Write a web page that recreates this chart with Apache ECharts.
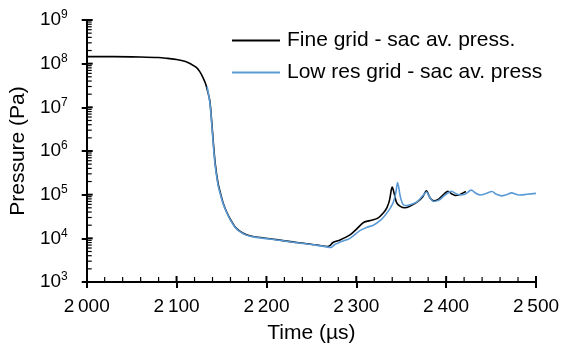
<!DOCTYPE html>
<html><head><meta charset="utf-8">
<script src="https://cdn.jsdelivr.net/npm/echarts@6/dist/echarts.min.js"></script>
<style>html,body{margin:0;padding:0;background:#fff}#c{width:566px;height:353px}</style>
</head><body><div id="c"></div>
<script>
var seriesNames = ['Fine grid - sac av. press.', 'Low res grid - sac av. press'];
var fineT = [2000,2030,2060,2080,2090,2100,2110,2116,2122,2126,2129,2132,2134,2137,2139,2141,2143,2146,2149,2152,2156,2160,2165,2170,2177,2185,2197,2215,2234,2255,2268,2271,2274,2282,2293,2300,2308,2317,2324,2330,2334,2337,2339,2340,2342,2345,2349,2354,2360,2368,2374,2378,2382,2386,2392,2398,2402,2406,2410,2415,2419,2422];
var fineP = [1.45e8,1.45e8,1.42e8,1.38e8,1.32e8,1.25e8,1.12e8,9.8e7,8.2e7,6.5e7,5e7,3.6e7,2.6e7,1.4e7,5e6,1.5e6,5.2e5,1.9e5,1.05e5,6.3e4,3.9e4,2.7e4,1.85e4,1.48e4,1.22e4,1.1e4,1.02e4,9.1e3,8e3,7.1e3,6.5e3,6.9e3,8e3,9.2e3,1.2e4,1.6e4,2.3e4,2.6e4,2.9e4,3.8e4,5e4,7.5e4,1.3e5,1.5e5,1.1e5,6.5e4,5.4e4,5e4,5.5e4,6.8e4,9e4,1.23e5,8.5e4,7.2e4,8e4,1.05e5,1.2e5,1.05e5,9.6e4,1e5,1.1e5,1.18e5];
var lowT = [2134,2137,2139,2141,2143,2146,2149,2152,2156,2160,2165,2170,2177,2185,2197,2215,2234,2255,2268,2272,2276,2282,2293,2304,2312,2319,2327,2334,2338,2341,2344,2346,2349,2352,2356,2362,2368,2374,2378,2382,2386,2392,2398,2406,2411,2416,2421,2428,2433,2438,2444,2451,2456,2462,2467,2473,2478,2482,2490,2500];
var lowP = [3e7,1.3e7,4.5e6,1.3e6,4.6e5,1.75e5,9.8e4,6e4,3.8e4,2.6e4,1.8e4,1.45e4,1.2e4,1.08e4,1e4,9e3,7.9e3,7e3,6.3e3,6.2e3,7.2e3,8.2e3,1e4,1.5e4,1.8e4,2e4,2.6e4,3.8e4,5e4,6.5e4,1.1e5,1.9e5,9e4,6e4,5.6e4,6.1e4,6.9e4,9.5e4,1.15e5,8.5e4,7e4,7.5e4,9.5e4,1.2e5,1.05e5,9.8e4,1.02e5,1.27e5,1.08e5,9.8e4,1.05e5,1.18e5,1.02e5,9.4e4,1e5,1.1e5,1.02e5,9.8e4,1.02e5,1.07e5];
var xMin = 2000, xMax = 2500, xStep = 100, xMinorStep = 20;
var yMin = 1e3, yMax = 1e9;

function zip(a, b) { return a.map(function (v, i) { return [v, b[i]]; }); }

// inner tick positions (value-space), drawn through the axes' scales
var innerTicks = [];
for (var t = xMin + xMinorStep; t < xMax; t += xMinorStep) innerTicks.push([t, yMin, 0, (t % xStep === 0) ? 1 : 0]);
innerTicks.push([xMax, yMin, 0, 1]);
for (var e = 3; e < 9; e++) {
  for (var k = 1; k <= 9; k++) {
    var v = k * Math.pow(10, e);
    if (v <= yMin) continue;
    innerTicks.push([xMin, v, 1, k === 1 ? 1 : 0]);
  }
}
innerTicks.push([xMin, yMax, 1, 1]);

var fontFam = '"Liberation Sans", Arial, sans-serif';
var chart = echarts.init(document.getElementById('c'), null, {renderer: 'canvas'});
chart.setOption({
  animation: false,
  backgroundColor: '#fff',
  textStyle: {fontFamily: fontFam},
  grid: {left: 86, right: 30, top: 20, bottom: 71},
  legend: {
    orient: 'vertical', left: 227, top: 25, itemGap: 11,
    itemWidth: 48, itemHeight: 2, icon: 'rect',
    textStyle: {fontSize: 21, color: '#000', fontFamily: fontFam, padding: [0, 0, 0, 2]},
    data: seriesNames
  },
  xAxis: {
    type: 'value', min: xMin, max: xMax, interval: xStep,
    name: 'Time (\u00b5s)', nameLocation: 'middle', nameGap: 41,
    nameTextStyle: {fontSize: 21, color: '#000'},
    axisLine: {lineStyle: {color: '#000', width: 2}},
    axisTick: {show: true, length: 6, lineStyle: {color: '#000', width: 2}},
    axisLabel: {fontSize: 19, color: '#000', margin: 15,
      formatter: function (v) { var s = String(v); return s.charAt(0) + '\u2009' + s.slice(1); }},
    splitLine: {show: false}
  },
  yAxis: {
    type: 'log', min: yMin, max: yMax, logBase: 10,
    name: 'Pressure (Pa)', nameLocation: 'middle', nameGap: 57,
    nameTextStyle: {fontSize: 21, color: '#000'},
    axisLine: {show: true, lineStyle: {color: '#000', width: 2}},
    axisTick: {show: true, length: 5, lineStyle: {color: '#000', width: 2}},
    axisLabel: {color: '#000', margin: 19,
      formatter: function (v) { return '{a|10}{b|' + Math.round(Math.log10(v)) + '}'; },
      rich: {a: {fontSize: 19, color: '#000', fontFamily: fontFam},
             b: {fontSize: 12, color: '#000', fontFamily: fontFam, padding: [0, 0, 10, 0]}}},
    splitLine: {show: false}
  },
  series: [
    {
      type: 'custom', silent: true, clip: false, z: 3,
      data: innerTicks,
      renderItem: function (params, api) {
        var p = api.coord([api.value(0), api.value(1)]);
        var isY = api.value(2) === 1, major = api.value(3) === 1;
        var len = major ? 6 : 5;
        var p2 = isY ? [p[0] + len, p[1]] : [p[0], p[1] - len];
        return {type: 'line', shape: {x1: p[0], y1: p[1], x2: p2[0], y2: p2[1]},
                style: {stroke: '#000', lineWidth: major ? 2 : 1.2}};
      }
    },
    {
      name: seriesNames[0], type: 'line', data: zip(fineT, fineP),
      showSymbol: false, symbol: 'none', smooth: 0.3, z: 4,
      lineStyle: {color: '#000', width: 1.6}, itemStyle: {color: '#000'}
    },
    {
      name: seriesNames[1], type: 'line', data: zip(lowT, lowP),
      showSymbol: false, symbol: 'none', smooth: 0.3, z: 5,
      lineStyle: {color: '#5b9bd5', width: 1.6}, itemStyle: {color: '#5b9bd5'}
    }
  ]
});
</script></body></html>
